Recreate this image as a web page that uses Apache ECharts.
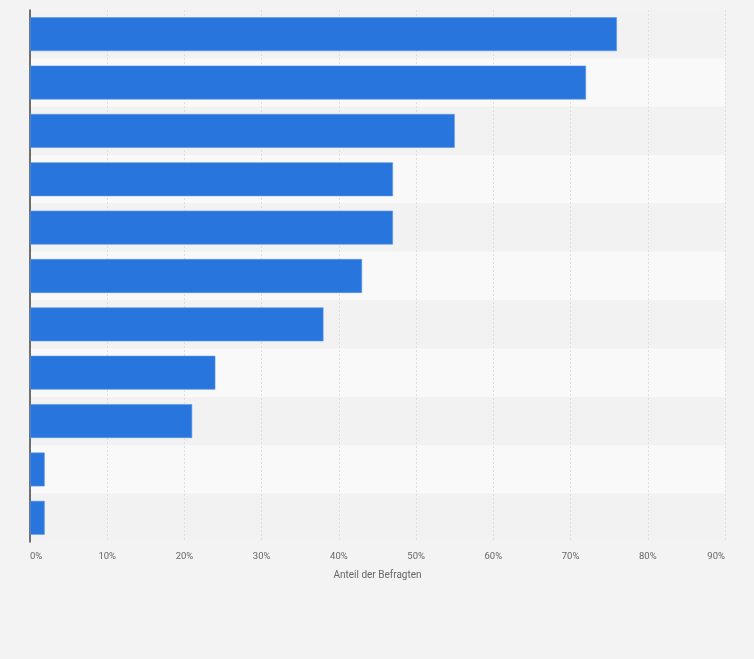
<!DOCTYPE html>
<html>
<head>
<meta charset="utf-8">
<script src="https://cdn.jsdelivr.net/npm/echarts@6/dist/echarts.min.js"></script>
<style>
html,body{margin:0;padding:0;background:#f3f3f3;}
#c{width:754px;height:659px;}
</style>
</head>
<body>
<div id="c"></div>
<script>
const categories = ['A','B','C','D','E','F','G','H','I','J','K'];
const values = [76, 72, 55, 47, 47, 43, 38, 24, 21, 1.9, 1.9];
const xTicks = [0,10,20,30,40,50,60,70,80,90];
const axisName = 'Anteil der Befragten';

const chart = echarts.init(document.getElementById('c'));
chart.setOption({
  backgroundColor: '#f3f3f3',
  animation: false,
  grid: {left: 30, right: 29, top: 10, bottom: 117, containLabel: false},
  xAxis: {
    type: 'value', min: 0, max: 90, interval: 10,
    name: axisName, nameLocation: 'middle', nameGap: 28,
    nameTextStyle: {color: '#666', fontSize: 10, fontFamily: 'Roboto'},
    axisLine: {show: false}, axisTick: {show: false},
    axisLabel: {formatter: v => v + '%', color: '#666', fontSize: 9.5, fontFamily: 'Roboto', margin: 10,
      alignMinLabel: 'left', alignMaxLabel: 'right'},
    splitLine: {show: true, lineStyle: {color: '#dedede', type: [2, 2], width: 1}}
  },
  yAxis: {
    type: 'category', data: categories, inverse: true,
    axisLine: {show: true, lineStyle: {color: '#444', width: 1.5}},
    axisTick: {show: false}, axisLabel: {show: false},
    splitArea: {show: true, areaStyle: {color: ['#f2f2f2', '#f9f9f9']}}
  },
  series: [{
    type: 'bar', data: values, barCategoryGap: '30%',
    itemStyle: {color: '#2876dd', borderColor: '#5a96e6', borderWidth: 0.6}
  }]
});
</script>
</body>
</html>
